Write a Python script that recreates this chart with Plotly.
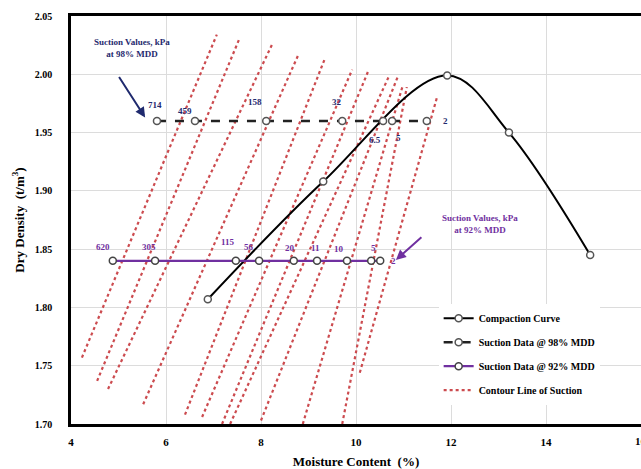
import plotly.graph_objects as go

# Compaction curve (moisture %, dry density t/m3)
compaction_w = [6.88, 9.31, 11.92, 13.22, 14.93]
compaction_rho = [1.807, 1.908, 1.999, 1.950, 1.845]

# Suction measurements at 98% MDD
mdd98_w = [5.81, 6.61, 8.11, 9.71, 10.57, 10.76, 11.49]
mdd98_rho = [1.96, 1.96, 1.96, 1.96, 1.96, 1.96, 1.96]
mdd98_suction = ["714", "459", "158", "32", "6.5", "5", "2"]

# Suction measurements at 92% MDD
mdd92_w = [4.88, 5.77, 7.47, 7.96, 8.69, 9.18, 9.81, 10.32, 10.51]
mdd92_rho = [1.84, 1.84, 1.84, 1.84, 1.84, 1.84, 1.84, 1.84, 1.84]
mdd92_suction = ["620", "305", "115", "56", "20", "11", "10", "5", "2"]

# Suction contour lines (start / end points)
contour_w0 = [4.23, 4.55, 4.78, 5.52, 6.40, 6.76, 7.18, 7.35, 8.00, 8.88, 9.71, 10.08]
contour_rho0 = [1.757, 1.737, 1.730, 1.717, 1.708, 1.706, 1.700, 1.700, 1.703, 1.700, 1.700, 1.744]
contour_w1 = [7.07, 7.54, 8.25, 8.80, 9.35, 9.92, 10.25, 10.69, 10.88, 10.99, 11.07, 11.71]
contour_rho1 = [2.034, 2.030, 2.027, 2.018, 2.014, 2.004, 2.002, 1.998, 1.998, 1.991, 1.989, 1.981]

x_ticks = [4, 6, 8, 10, 12, 14, 16]
y_ticks = [1.70, 1.75, 1.80, 1.85, 1.90, 1.95, 2.00, 2.05]

SERIF = "Liberation Serif"
NAVY = "#1f2a6e"
PURPLE = "#7030a0"
RED = "#cc4b4f"

# label pixel offsets (dx, dy) relative to each point
off98 = [(-2, 16), (-10, 10), (-11, 19), (-5, 19), (-8, -19), (6, -17), (19, 0)]
off92 = [(-10, 14), (-6, 14), (-8, 19), (-10, 14), (-4, 13), (-2, 13), (-8, 12), (2, 13), (13, 0)]

fig = go.Figure()

cx, cy = [], []
for a, b, c, d in zip(contour_w0, contour_rho0, contour_w1, contour_rho1):
    cx += [a, c, None]
    cy += [b, d, None]

fig.add_trace(go.Scatter(
    x=cx, y=cy, mode="lines", name="<b>Contour Line of Suction</b>",
    line=dict(color=RED, width=2.2, dash="dot"),
    legendrank=4, legendgroup="d",
))

fig.add_trace(go.Scatter(
    x=compaction_w, y=compaction_rho, mode="lines+markers", name="<b>Compaction Curve</b>",
    line=dict(color="black", width=2, shape="spline", smoothing=1.0),
    marker=dict(symbol="circle", size=7, color="white", line=dict(color="#555555", width=1.5)),
    legendrank=1, legendgroup="a",
))
fig.add_trace(go.Scatter(
    x=mdd98_w, y=mdd98_rho, mode="lines+markers", name="<b>Suction Data @ 98% MDD</b>",
    line=dict(color="#222222", width=2.5, dash="dash"),
    marker=dict(symbol="circle", size=7, color="white", line=dict(color="#555555", width=1.5)),
    legendrank=2, legendgroup="b",
))
fig.add_trace(go.Scatter(
    x=mdd92_w, y=mdd92_rho, mode="lines+markers", name="<b>Suction Data @ 92% MDD</b>",
    line=dict(color=PURPLE, width=2.2),
    marker=dict(symbol="circle", size=7, color="white", line=dict(color="#444444", width=1.5)),
    legendrank=3, legendgroup="c",
))

anns = []
for w, r, s, (dx, dy) in zip(mdd98_w, mdd98_rho, mdd98_suction, off98):
    anns.append(dict(x=w, y=r, text=f"<b>{s}</b>", showarrow=False, xshift=dx, yshift=dy,
                     font=dict(family=SERIF, size=9, color=NAVY)))
for w, r, s, (dx, dy) in zip(mdd92_w, mdd92_rho, mdd92_suction, off92):
    anns.append(dict(x=w, y=r, text=f"<b>{s}</b>", showarrow=False, xshift=dx, yshift=dy,
                     font=dict(family=SERIF, size=9, color=PURPLE)))

anns.append(dict(x=5.28, y=2.0226, text="<b>Suction Values, kPa<br>at 98% MDD</b>",
                 showarrow=False, font=dict(family=SERIF, size=9, color=NAVY)))
anns.append(dict(x=5.56, y=1.963, ax=-27, ay=-42, text="", showarrow=True,
                 arrowhead=2, arrowsize=1, arrowwidth=2, arrowcolor=NAVY))
anns.append(dict(x=12.61, y=1.8716, text="<b>Suction Values, kPa<br>at 92% MDD</b>",
                 showarrow=False, font=dict(family=SERIF, size=9, color=PURPLE)))
anns.append(dict(x=10.84, y=1.8407, ax=27, ay=-24, text="", showarrow=True,
                 arrowhead=2, arrowsize=1, arrowwidth=2, arrowcolor=PURPLE))
# last x tick label sits on the right edge of the page
anns.append(dict(x=x_ticks[-1], xref="x", y=0, yref="paper", yanchor="top", yshift=-9,
                 text=f"<b>{x_ticks[-1]}</b>", showarrow=False, font=dict(family=SERIF, size=11)))

fig.update_layout(
    width=641, height=469,
    margin=dict(l=71, r=0, t=16, b=45),
    paper_bgcolor="white", plot_bgcolor="white",
    font=dict(family=SERIF, color="black"),
    annotations=anns,
    legend=dict(
        x=0.645, y=0.295, xanchor="left", yanchor="top",
        bgcolor="white", borderwidth=0,
        font=dict(family=SERIF, size=10, color="black"),
        tracegroupgap=5, traceorder="grouped",
    ),
    xaxis=dict(
        range=[4, 16], tickvals=x_ticks[:-1], ticktext=[f"<b>{v}</b>" for v in x_ticks[:-1]],
        showgrid=True, gridcolor="#dcdcdc", gridwidth=1,
        showline=True, linecolor="black", linewidth=2.5, mirror=True,
        zeroline=False, ticks="", tickfont=dict(family=SERIF, size=11),
        ticklabelstandoff=6,
        title=dict(text="<b>Moisture Content  (%)</b>", font=dict(family=SERIF, size=13), standoff=10),
    ),
    yaxis=dict(
        range=[1.70, 2.05], tickvals=y_ticks, ticktext=[f"<b>{v:.2f}</b>" for v in y_ticks],
        showgrid=True, gridcolor="#dcdcdc", gridwidth=1,
        showline=True, linecolor="black", linewidth=2.5, mirror=False,
        zeroline=False, ticks="", tickfont=dict(family=SERIF, size=10),
        ticklabelstandoff=14,
        title=dict(text="<b>Dry Density  (t/m<sup>3</sup>)</b>", font=dict(family=SERIF, size=13), standoff=8),
    ),
)

fig.write_html("out.html")
